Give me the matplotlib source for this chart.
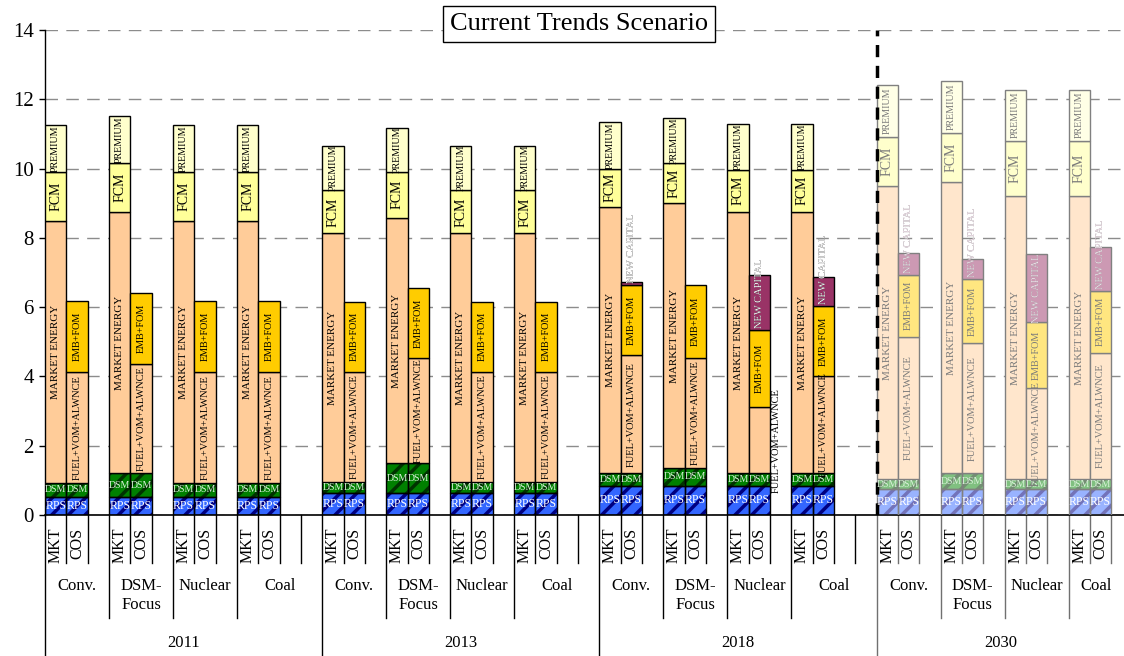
import matplotlib
matplotlib.use('Agg')
import matplotlib.pyplot as plt
import numpy as np
from matplotlib.colors import to_rgb

plt.rcParams['font.family'] = ['Liberation Serif', 'DejaVu Serif']
plt.rcParams['hatch.linewidth'] = 2.5

years = ['2011', '2013', '2018', '2030']
scenarios = ['Conv.', 'DSM-\nFocus', 'Nuclear', 'Coal']
bar_types = ['MKT', 'COS']

# one row per year, one column per scenario (Conv., DSM-Focus, Nuclear, Coal)
rps = [[0.53, 0.53, 0.53, 0.53],
       [0.63, 0.63, 0.63, 0.63],
       [0.85, 0.85, 0.85, 0.85],
       [0.75, 0.75, 0.75, 0.75]]
dsm = [[0.39, 0.67, 0.39, 0.39],
       [0.31, 0.86, 0.31, 0.31],
       [0.35, 0.52, 0.35, 0.35],
       [0.28, 0.45, 0.28, 0.28]]
# MKT bar
market_energy = [[7.56, 7.54, 7.56, 7.56],
                 [7.19, 7.09, 7.19, 7.19],
                 [7.70, 7.63, 7.56, 7.56],
                 [8.48, 8.42, 8.19, 8.19]]
fcm = [[1.42, 1.42, 1.42, 1.42],
       [1.24, 1.33, 1.24, 1.24],
       [1.09, 1.15, 1.20, 1.20],
       [1.41, 1.42, 1.59, 1.59]]
premium = [[1.36, 1.36, 1.36, 1.36],
           [1.28, 1.27, 1.28, 1.28],
           [1.34, 1.32, 1.33, 1.33],
           [1.49, 1.49, 1.46, 1.46]]
# COS bar
fuel_vom = [[3.21, 3.16, 3.21, 3.21],
            [3.20, 3.03, 3.20, 3.20],
            [3.42, 3.17, 1.91, 2.81],
            [4.12, 3.76, 2.63, 3.66]]
emb_fom = [[2.05, 2.04, 2.05, 2.05],
           [2.02, 2.04, 2.02, 2.02],
           [2.02, 2.09, 2.23, 2.03],
           [1.78, 1.84, 1.90, 1.79]]
new_capital = [[0, 0, 0, 0],
               [0, 0, 0, 0],
               [0.10, 0, 1.59, 0.84],
               [0.62, 0.59, 1.97, 1.25]]

mkt_parts = [('RPS', rps), ('DSM', dsm), ('MARKET ENERGY', market_energy),
             ('FCM', fcm), ('PREMIUM', premium)]
cos_parts = [('RPS', rps), ('DSM', dsm), ('FUEL+VOM+ALWNCE', fuel_vom),
             ('EMB+FOM', emb_fom), ('NEW CAPITAL', new_capital)]

styles = {
    'RPS': dict(fc='#3366FF', hatch='//', hc='#000080', tc='white', fs=8.5, rot=0),
    'DSM': dict(fc='#008000', hatch='//', hc='#003300', tc='#d8f0d8', fs=7, rot=0),
    'MARKET ENERGY': dict(fc='#FFCC99', hatch=None, hc=None, tc='black', fs=8, rot=90),
    'FCM': dict(fc='#FFFF99', hatch=None, hc=None, tc='black', fs=10, rot=90),
    'PREMIUM': dict(fc='#FFFFCC', hatch=None, hc=None, tc='black', fs=7.2, rot=90),
    'FUEL+VOM+ALWNCE': dict(fc='#FFCC99', hatch=None, hc=None, tc='black', fs=7.5, rot=90),
    'EMB+FOM': dict(fc='#FFCC00', hatch=None, hc=None, tc='black', fs=7.3, rot=90),
    'NEW CAPITAL': dict(fc='#993366', hatch=None, hc=None, tc='black', fs=7.6, rot=90),
}


def fade(c, k=0.5):
    r = np.array(to_rgb(c))
    return tuple(r * (1 - k) + k)


slots_per_year = 13
slots_per_group = 3
x_max = 50.6

fig = plt.figure(figsize=(11.24, 6.56), dpi=100)
ax = fig.add_axes([45 / 1124, 141 / 656, 1 - 45 / 1124, 485 / 656])
ax.set_xlim(0, x_max)
ax.set_ylim(0, 14)
ax.set_yticks(range(0, 15, 2))
ax.set_xticks([])
ax.tick_params(axis='y', labelsize=15, direction='out', length=4.5, width=1)
ax.spines['top'].set_visible(False)
ax.spines['right'].set_visible(False)
ax.spines['left'].set_linewidth(1)
ax.spines['bottom'].set_linewidth(1.2)
ax.set_axisbelow(True)
ax.yaxis.grid(True, color='#8c8c8c', lw=1, ls=(0, (9, 6)))

fig.canvas.draw()
renderer = fig.canvas.get_renderer()
ppu = ax.transData.transform((0, 1))[1] - ax.transData.transform((0, 0))[1]
ppx = ax.transData.transform((1, 0))[0] - ax.transData.transform((0, 0))[0]

for yi, year in enumerate(years):
    faded = year == '2030'
    for gi in range(len(scenarios)):
        s = yi * slots_per_year + gi * slots_per_group
        for bi, parts in enumerate([mkt_parts, cos_parts]):
            x = s + bi + 0.5
            bottom = 0
            nonzero = [p for p in parts if p[1][yi][gi] > 0]
            for name, vals in parts:
                h = vals[yi][gi]
                if h <= 0:
                    continue
                st = styles[name]
                fc = fade(st['fc']) if faded else st['fc']
                ec = '#808080' if faded else 'black'
                if st['hatch']:
                    hc = fade(st['hc'], 0.45) if faded else st['hc']
                    ax.bar(x, h, bottom=bottom, width=1, color=fc, hatch=st['hatch'],
                           edgecolor=hc, lw=0, zorder=2)
                    rect = ax.bar(x, h, bottom=bottom, width=1, fill=False,
                                  edgecolor=ec, lw=1, zorder=3)[0]
                else:
                    rect = ax.bar(x, h, bottom=bottom, width=1, color=fc,
                                  edgecolor=ec, lw=1, zorder=3)[0]

                tc = st['tc']
                if faded and tc == 'black':
                    tc = '#7a7a7a'
                if st['rot'] == 0:
                    ax.text(x, bottom + h / 2, name, ha='center', va='center',
                            fontsize=st['fs'], color=tc, zorder=5)
                else:
                    t = ax.text(x, bottom + h / 2, name, ha='center', va='center',
                                rotation=90, fontsize=st['fs'], color=tc, zorder=5)
                    tlen = t.get_window_extent(renderer).height
                    seg = h * ppu
                    is_top = name == nonzero[-1][0]
                    if tlen > 1.2 * seg:
                        if is_top:
                            t.set_position((x, bottom + 2 / ppu))
                            t.set_va('bottom')
                        else:
                            t.set_position((x + 0.5 + 2 / ppx, bottom + h / 2))
                            t.set_ha('left')
                    if name == 'NEW CAPITAL':
                        # light lettering where it sits on the dark segment
                        t2 = ax.text(*t.get_position(), name, ha=t.get_ha(), va=t.get_va(),
                                     rotation=90, fontsize=st['fs'],
                                     color='#f0e0ea' if faded else 'white', zorder=6)
                        t2.set_clip_path(rect)
                bottom += h

# separator between actual and projected years
ax.axvline(3 * slots_per_year, color='black', lw=2.5, ls=(0, (3.5, 2.5)), zorder=4)

# category axis below the plot
xt = ax.get_xaxis_transform()
for k in range(0, int(x_max) + 1):
    col = '#707070' if k >= 3 * slots_per_year else 'black'
    if k % slots_per_year == 0:
        y_end = -0.31
    elif (k % slots_per_year) % slots_per_group == 0 and k % slots_per_year < 12:
        y_end = -0.212
    else:
        y_end = -0.099
    ax.plot([k, k], [0, y_end], transform=xt, color=col, lw=1, clip_on=False)

for yi, year in enumerate(years):
    y0 = yi * slots_per_year
    for gi, sc in enumerate(scenarios):
        s = y0 + gi * slots_per_group
        for bi, bt in enumerate(bar_types):
            ax.text(s + bi + 0.5, -0.026, bt, transform=xt, rotation=90, ha='center',
                    va='top', fontsize=11.5)
        g_end = s + slots_per_group if gi < len(scenarios) - 1 else y0 + slots_per_year
        g_end = min(g_end, x_max)
        ax.text((s + g_end) / 2, -0.13, sc, transform=xt, ha='center', va='top',
                fontsize=12, linespacing=1.25)
    y_end = min(y0 + slots_per_year, x_max)
    ax.text((y0 + y_end) / 2, -0.264, year, transform=xt, ha='center', va='center',
            fontsize=12)

fig.text(579 / 1124, 1 - 24 / 656, 'Current Trends Scenario', ha='center', va='center',
         fontsize=19, bbox=dict(boxstyle='square,pad=0.25', fc='white', ec='black', lw=1))

fig.savefig('out.png', dpi=100)
